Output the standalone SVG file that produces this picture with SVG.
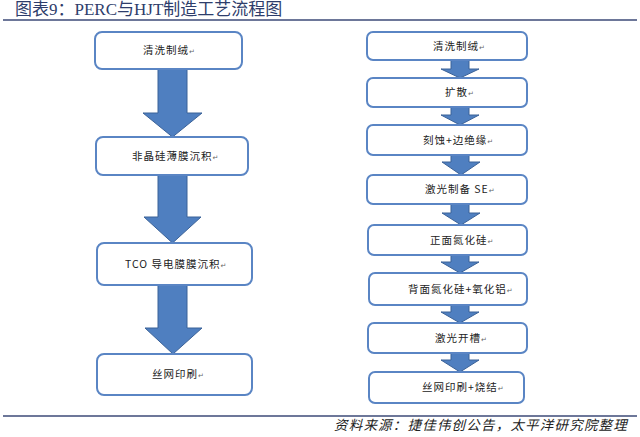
<svg xmlns="http://www.w3.org/2000/svg" width="640" height="437" viewBox="0 0 640 437">
<style>
.box{fill:#fff;stroke:#5a85c4;stroke-width:2}
.arr{fill:#4f7fc0;stroke:#3b6298;stroke-width:1}
.lbl{font-family:"Noto Sans CJK SC","Noto Sans",sans-serif;font-size:10.5px;fill:#222;letter-spacing:1px;text-anchor:start}
.rt{font-family:"DejaVu Sans",sans-serif;font-size:7px;fill:#666;letter-spacing:0}
.title{font-family:"Liberation Serif","Noto Sans CJK SC",serif;font-size:17px;fill:#2e3d6b}
.src{font-family:"Liberation Serif","Noto Sans CJK SC",serif;font-size:13.5px;font-style:italic;fill:#222;letter-spacing:1.2px;text-anchor:end}
.rule{stroke:#3d4a77;stroke-width:1.5}
</style>
<rect width="640" height="437" fill="#fff"/>
<text class="title" x="15" y="15">图表9：PERC与HJT制造工艺流程图</text>
<line class="rule" x1="3" y1="20" x2="637" y2="20"/>
<line class="rule" x1="3" y1="416" x2="637" y2="416"/>
<text class="src" x="628" y="430">资料来源：捷佳伟创公告，太平洋研究院整理</text>

<g id="connectors">
  <polygon class="arr" points="158,69 187,69 187,113 202,113 172.5,137 143,113 158,113"/>
  <polygon class="arr" points="158,175 187,175 187,217 201,217 172.5,243 144,217 158,217"/>
  <polygon class="arr" points="158,285 187,285 187,328 202,328 173,354 145,328 158,328"/>
  <polygon class="arr" points="451,60 469,60 469,69 479,69 460,78 441,69 451,69"/>
  <polygon class="arr" points="451,107 469,107 469,115 479,115 460,125 441,115 451,115"/>
  <polygon class="arr" points="451,155 469,155 469,162 480,162 461,175 442,162 451,162"/>
  <polygon class="arr" points="451,204 469,204 469,213 480,213 461,225 442,213 451,213"/>
  <polygon class="arr" points="451,255 469,255 469,262 479,262 460,273 441,262 451,262"/>
  <polygon class="arr" points="451,305 469,305 469,312 479,312 460,323 441,312 451,312"/>
  <polygon class="arr" points="451,353 469,353 469,360 479,360 460,372 441,360 451,360"/>
</g>

<g id="L1"><rect class="box" x="95" y="32" width="147" height="37" rx="7"/><text class="lbl" x="143" y="54">清洗制绒<tspan class="rt">↵</tspan></text></g>
<g id="L2"><rect class="box" x="96" y="137" width="152" height="38" rx="7"/><text class="lbl" x="132" y="160">非晶硅薄膜沉积<tspan class="rt">↵</tspan></text></g>
<g id="L3"><rect class="box" x="97" y="243" width="155" height="42" rx="7"/><text class="lbl" x="125" y="268">TCO 导电膜膜沉积<tspan class="rt">↵</tspan></text></g>
<g id="L4"><rect class="box" x="97" y="354" width="155" height="41" rx="7"/><text class="lbl" x="152" y="378">丝网印刷<tspan class="rt">↵</tspan></text></g>

<g id="R1"><rect class="box" x="367" y="32" width="160" height="28" rx="6"/><text class="lbl" x="433" y="50">清洗制绒<tspan class="rt">↵</tspan></text></g>
<g id="R2"><rect class="box" x="367" y="78" width="160" height="29" rx="6"/><text class="lbl" x="445" y="96">扩散<tspan class="rt">↵</tspan></text></g>
<g id="R3"><rect class="box" x="367" y="125" width="160" height="30" rx="6"/><text class="lbl" x="423" y="144">刻蚀+边绝缘<tspan class="rt">↵</tspan></text></g>
<g id="R4"><rect class="box" x="367" y="175" width="160" height="29" rx="6"/><text class="lbl" x="425" y="193">激光制备 SE<tspan class="rt">↵</tspan></text></g>
<g id="R5"><rect class="box" x="368" y="225" width="159" height="30" rx="6"/><text class="lbl" x="430" y="244">正面氮化硅<tspan class="rt">↵</tspan></text></g>
<g id="R6"><rect class="box" x="369" y="273" width="158" height="32" rx="6"/><text class="lbl" x="408" y="293">背面氮化硅+氧化铝<tspan class="rt">↵</tspan></text></g>
<g id="R7"><rect class="box" x="368" y="323" width="159" height="30" rx="6"/><text class="lbl" x="435" y="342">激光开槽<tspan class="rt">↵</tspan></text></g>
<g id="R8"><rect class="box" x="369" y="372" width="155" height="31" rx="6"/><text class="lbl" x="422" y="391">丝网印刷+烧结<tspan class="rt">↵</tspan></text></g>
</svg>
